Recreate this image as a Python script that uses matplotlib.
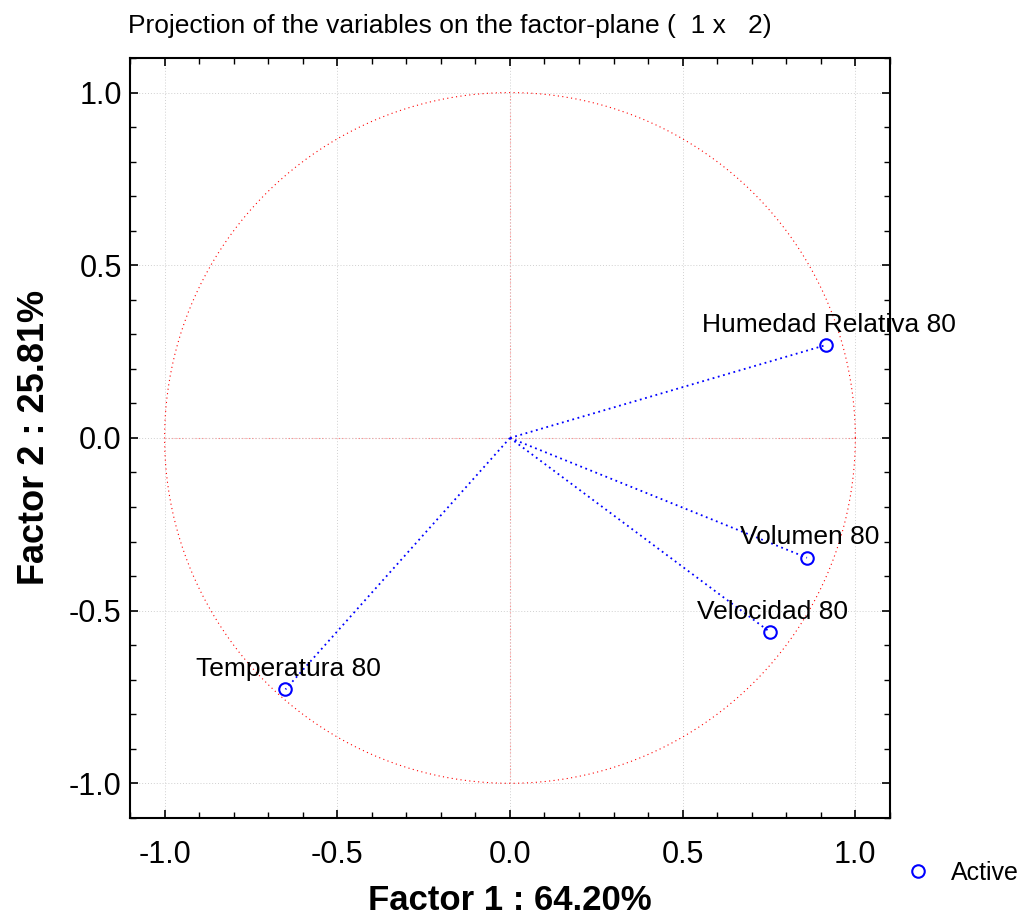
import numpy as np
import matplotlib.pyplot as plt
from matplotlib.ticker import MultipleLocator

plt.rcParams['font.family'] = ['Liberation Sans', 'DejaVu Sans']

variables = ['Humedad Relativa 80', 'Volumen 80', 'Velocidad 80', 'Temperatura 80']
factor1 = [0.915, 0.860, 0.753, -0.650]
factor2 = [0.269, -0.347, -0.562, -0.728]
ticks = [-1.0, -0.5, 0.0, 0.5, 1.0]

fig = plt.figure(figsize=(10.24, 9.21), dpi=100)
ax = fig.add_axes([0.127, 0.112, 0.742, 0.825])

# unit circle and centre axes
t = np.linspace(0, 2 * np.pi, 400)
ax.plot(np.cos(t), np.sin(t), color='red', lw=0.8, ls=(0, (1, 3)), zorder=2)
ax.plot([-1, 1], [0, 0], color='#ff8080', lw=0.8, ls=(0, (1, 2)), zorder=1)
ax.plot([0, 0], [-1, 1], color='#ff8080', lw=0.8, ls=(0, (1, 2)), zorder=1)

for name, x, y in zip(variables, factor1, factor2):
    ax.plot([0, x], [0, y], color='blue', lw=1.3, ls=(0, (1, 2)), zorder=3)
    ax.annotate(name, (x, y), xytext=(2, 6), textcoords='offset points',
                ha='center', va='bottom', fontsize=19, zorder=5)

ax.plot(factor1, factor2, 'o', mfc='none', mec='blue', ms=9, mew=1.5,
        zorder=4, label='Active')

ax.set_xlim(-1.1, 1.1)
ax.set_ylim(-1.1, 1.1)
ax.set_xticks(ticks)
ax.set_yticks(ticks)
ax.set_xticklabels([f'{v:.1f}' for v in ticks])
ax.set_yticklabels([f'{v:.1f}' for v in ticks])
ax.xaxis.set_minor_locator(MultipleLocator(0.1))
ax.yaxis.set_minor_locator(MultipleLocator(0.1))
ax.tick_params(which='both', direction='in', top=True, right=True, labelsize=22)
ax.tick_params(which='major', length=6, width=1.2)
ax.tick_params(which='minor', length=4, width=1)
ax.tick_params(axis='x', which='major', pad=16)
ax.tick_params(axis='y', which='major', pad=6)
ax.grid(True, which='major', color='#d0d0d0', ls=(0, (1, 2)), lw=0.7)
for s in ax.spines.values():
    s.set_linewidth(1.5)

ax.set_xlabel('Factor 1 : 64.20%', fontsize=25, fontweight='bold', labelpad=10)
ax.set_ylabel('Factor 2 : 25.81%', fontsize=26, fontweight='bold', labelpad=12)
fig.text(0.125, 0.972, 'Projection of the variables on the factor-plane (  1 x   2)',
         fontsize=19, ha='left', va='center')

fig.legend(loc='center left', bbox_to_anchor=(0.8625, 0.052), frameon=False,
           fontsize=18, handlelength=1, handletextpad=0.8)

fig.savefig('out.png', dpi=100)
